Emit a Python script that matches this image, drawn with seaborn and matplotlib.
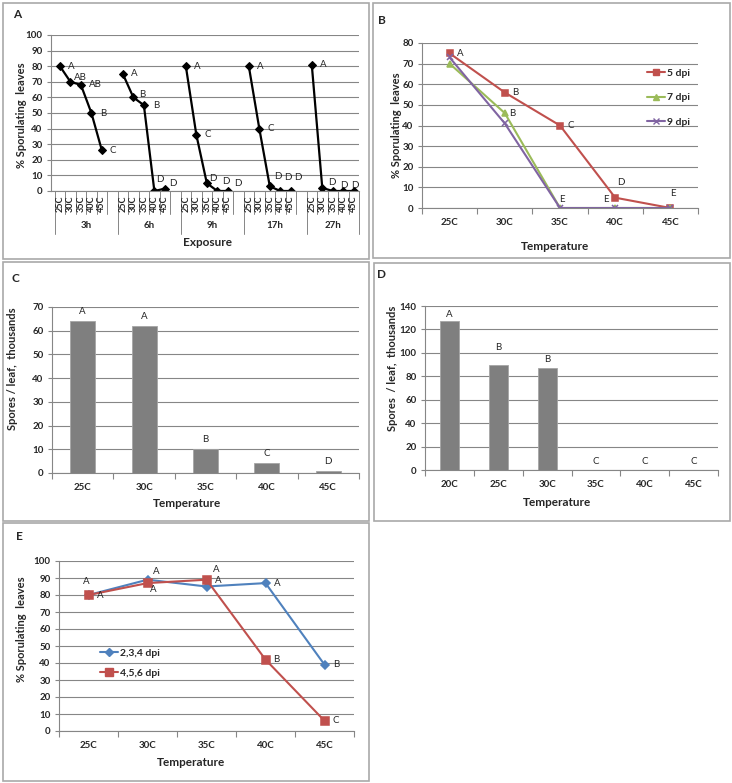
import numpy as np
import pandas as pd
import matplotlib
matplotlib.use("Agg")
import matplotlib.pyplot as plt
import seaborn as sns
from matplotlib.lines import Line2D
from matplotlib.patches import Rectangle

sns.set_theme(style="white")
plt.rcParams['font.family'] = ['Lato', 'DejaVu Sans']
plt.rcParams['font.weight'] = 'bold'

# --- panel A: % sporulating leaves by exposure time and temperature
temps_a = ['25C', '30C', '35C', '40C', '45C']
exposures = ['3h', '6h', '9h', '17h', '27h']
a_3h = [80, 70, 68, 50, 26]
a_6h = [75, 60, 55, 0, 1.5]
a_9h = [80, 36, 5, 0, 0]
a_17h = [80, 40, 3, 0, 0]
a_27h = [81, 2, 0, 0, 0]
a_3h_lbl = ['A', 'AB', 'AB', 'B', 'C']
a_6h_lbl = ['A', 'B', 'B', 'D', 'D']
a_9h_lbl = ['A', 'C', 'D', 'D', 'D']
a_17h_lbl = ['A', 'C', 'D', 'D', 'D']
a_27h_lbl = ['A', 'D', '', 'D', 'D']

# --- panel B
temps_b = ['25C', '30C', '35C', '40C', '45C']
dpi_b = ['5 dpi', '7 dpi', '9 dpi']
b_5dpi = [75, 56, 40, 5, 0]
b_7dpi = [70, 46, 0, 0, 0]
b_9dpi = [73, 41, 0, 0, 0]
b_5dpi_lbl = ['A', 'B', 'C', 'D', 'E']
b_7dpi_lbl = ['', 'B', 'E', '', '']
b_9dpi_lbl = ['', '', '', 'E', '']

# --- panel C
temps_c = ['25C', '30C', '35C', '40C', '45C']
spores_c = [64, 62, 10, 4.2, 0.7]
spores_c_lbl = ['A', 'A', 'B', 'C', 'D']

# --- panel D
temps_d = ['20C', '25C', '30C', '35C', '40C', '45C']
spores_d = [127, 90, 87, 0, 0, 0]
spores_d_lbl = ['A', 'B', 'B', 'C', 'C', 'C']

# --- panel E
temps_e = ['25C', '30C', '35C', '40C', '45C']
dpi_e = ['2,3,4 dpi', '4,5,6 dpi']
e_234 = [80, 89, 85, 87, 39]
e_456 = [80, 87, 89, 42, 6]
e_234_lbl = ['A', 'A', 'A', 'A', 'B']
e_456_lbl = ['A', 'A', 'A', 'B', 'C']

# letter offsets in pixels (right, up)
a_off = [[(8, 0), (4, 4), (8, 0), (9, 0), (8, 0)],
         [(8, 0), (6, 3), (9, 0), (2, 11), (4, 5)],
         [(8, 0), (8, 0), (2, 5), (5, 9), (6, 7)],
         [(8, 0), (8, 0), (4, 10), (4, 13), (3, 14)],
         [(8, 0), (6, 5), (0, 0), (-3, 6), (-3, 6)]]
b_5dpi_off = [(11, 0), (10, 0), (11, 0), (6, 15), (2, 15)]
b_7dpi_off = [(0, 0), (7, 0), (2, 8), (0, 0), (0, 0)]
b_9dpi_off = [(0, 0), (0, 0), (0, 0), (-9, 8), (0, 0)]
e_234_off = [(-2.5, 14), (8.5, 8), (11.5, 6), (11.5, 0), (11.5, 0)]
e_456_off = [(11.5, -1), (5.5, -6), (9.5, 10), (10.5, 0), (11.5, 0)]
d_off = [7, 17, 9, 9, 9, 9]

RED = '#C0504D'
GREEN = '#9BBB59'
PURPLE = '#8064A2'
BLUE = '#4F81BD'
BAR = '#7F7F7F'
GRID = '#868686'

W, H = 732, 783
fig = plt.figure(figsize=(W / 100, H / 100), dpi=100)
fig.patch.set_facecolor('white')


def px_axes(x0, y0, x1, y1):
    return fig.add_axes([x0 / W, 1 - y1 / H, (x1 - x0) / W, (y1 - y0) / H])


def ftext(x, y, s, **kw):
    kw.setdefault('ha', 'center')
    kw.setdefault('va', 'center')
    fig.text(x / W, 1 - y / H, s, **kw)


def box(x0, y0, x1, y1):
    fig.add_artist(Rectangle((x0 / W, 1 - y1 / H), (x1 - x0) / W, (y1 - y0) / H,
                             transform=fig.transFigure, fill=False,
                             ec='#A9A9A9', lw=1.2))


def style_axes(ax, ymax, ystep):
    ax.set_ylim(0, ymax)
    ax.set_yticks(np.arange(0, ymax + 1, ystep))
    ax.yaxis.grid(True, color=GRID, lw=0.8)
    ax.xaxis.grid(False)
    ax.set_axisbelow(True)
    sns.despine(ax=ax)
    for s in ['left', 'bottom']:
        ax.spines[s].set_color(GRID)
        ax.spines[s].set_linewidth(0.8)
    ax.tick_params(axis='y', left=True, length=3, width=0.8, color=GRID,
                   labelsize=7, pad=3)
    ax.set_xlabel('')
    ax.set_ylabel('')
    ax.set_facecolor('none')


def cat_ticks(ax, n):
    ax.set_xlim(-0.5, n - 0.5)
    ax.set_xticks(np.arange(n + 1) - 0.5, minor=True)
    ax.tick_params(axis='x', which='major', bottom=False, length=0,
                   labelsize=7, pad=7)
    ax.tick_params(axis='x', which='minor', bottom=True, length=4,
                   width=0.8, color=GRID)


def letter(ax, x, y, s, dx, dy, ha='center'):
    if s:
        ax.annotate(s, (x, y), xytext=(dx * 0.72, dy * 0.72),
                    textcoords='offset points', ha=ha, va='center',
                    fontsize=7, fontweight='normal')


# ---------------- A
axA = px_axes(51, 35, 359, 191)
rows = []
a_vals = [a_3h, a_6h, a_9h, a_17h, a_27h]
a_lbls = [a_3h_lbl, a_6h_lbl, a_9h_lbl, a_17h_lbl, a_27h_lbl]
for g, exp in enumerate(exposures):
    for j, t in enumerate(temps_a):
        rows.append(dict(exposure=exp, temp=t, pos=g * 6 + j,
                         val=a_vals[g][j], lbl=a_lbls[g][j],
                         dx=a_off[g][j][0], dy=a_off[g][j][1]))
dfA = pd.DataFrame(rows)
sns.lineplot(data=dfA, x='pos', y='val', units='exposure', estimator=None,
             color='black', marker='D', markersize=4,
             markeredgecolor='black', lw=1.6, ax=axA)
style_axes(axA, 100, 10)
axA.set_xlim(-0.85, 28.5)
axA.set_xticks([])
for _, r in dfA.iterrows():
    letter(axA, r.pos, r.val, r.lbl, r.dx, r.dy, ha='left')
tr = axA.get_xaxis_transform()
for g, exp in enumerate(exposures):
    base = g * 6
    for k in range(1, 6):
        axA.plot([base - 0.5 + k] * 2, [0, -0.147], color=GRID, lw=0.7,
                 transform=tr, clip_on=False)
    axA.plot([base - 0.5] * 2, [0, -0.276], color=GRID, lw=0.7,
             transform=tr, clip_on=False)
    for j, t in enumerate(temps_a):
        axA.text(base + j, -0.083, t, transform=tr, rotation=90,
                 ha='center', va='center', fontsize=6.5)
    gx = base + 2.5 if g < 4 else base + 2
    axA.text(gx, -0.224, exp, transform=tr, ha='center', va='center',
             fontsize=7)
axA.plot([28.5] * 2, [0, -0.276], color=GRID, lw=0.7, transform=tr,
         clip_on=False)
ftext(22, 115, '% Sporulating  leaves', rotation=90, fontsize=8)
ftext(207, 242, 'Exposure', fontsize=8.5)

# ---------------- B
axB = px_axes(422, 43, 698, 208)
dfB = pd.DataFrame({'temp': temps_b * 3,
                    'series': np.repeat(dpi_b, len(temps_b)),
                    'val': b_5dpi + b_7dpi + b_9dpi})
sns.pointplot(data=dfB, x='temp', y='val', hue='series', order=temps_b,
              hue_order=dpi_b, palette=[RED, GREEN, PURPLE],
              markers=['s', '^', 'x'], linestyles='-', markersize=5,
              linewidth=1.5, errorbar=None, legend=False, ax=axB)
style_axes(axB, 80, 10)
cat_ticks(axB, len(temps_b))
for vals, lbls, offs in [(b_5dpi, b_5dpi_lbl, b_5dpi_off),
                         (b_7dpi, b_7dpi_lbl, b_7dpi_off),
                         (b_9dpi, b_9dpi_lbl, b_9dpi_off)]:
    for i, (v, l, o) in enumerate(zip(vals, lbls, offs)):
        letter(axB, i, v, l, *o)
hB = [Line2D([], [], color=c, marker=m, markersize=5, lw=1.5)
      for c, m in zip([RED, GREEN, PURPLE], ['s', '^', 'x'])]
axB.legend(hB, dpi_b, loc='upper left', bbox_to_anchor=(0.815, 0.845),
           frameon=False, handlelength=1.7, handletextpad=0.2,
           labelspacing=1.45, borderaxespad=0, borderpad=0,
           prop=dict(size=7.5, weight='bold'))
ftext(397, 125, '% Sporulating  leaves', rotation=90, fontsize=8)
ftext(555, 246, 'Temperature', fontsize=8.5)

# ---------------- C
axC = px_axes(52, 307, 359, 473)
sns.barplot(x=temps_c, y=spores_c, color=BAR, width=0.41, saturation=1,
            edgecolor='#A5A5A5', linewidth=0.6, ax=axC)
style_axes(axC, 70, 10)
cat_ticks(axC, len(temps_c))
for i, (v, l) in enumerate(zip(spores_c, spores_c_lbl)):
    letter(axC, i, v, l, 0, 9.5)
ftext(13, 369, 'Spores / leaf,  thousands', rotation=90, fontsize=8)
ftext(187, 503, 'Temperature', fontsize=8.5)

# ---------------- D
axD = px_axes(425, 306, 718, 470)
sns.barplot(x=temps_d, y=spores_d, color=BAR, width=0.39, saturation=1,
            edgecolor='#A5A5A5', linewidth=0.6, ax=axD)
style_axes(axD, 140, 20)
cat_ticks(axD, len(temps_d))
for i, (v, l) in enumerate(zip(spores_d, spores_d_lbl)):
    letter(axD, i, v, l, 0, d_off[i])
ftext(392, 368, 'Spores  / leaf,  thousands', rotation=90, fontsize=8)
ftext(557, 502, 'Temperature', fontsize=8.5)

# ---------------- E
axE = px_axes(59, 561, 354, 731)
dfE = pd.DataFrame({'temp': temps_e * 2,
                    'series': np.repeat(dpi_e, len(temps_e)),
                    'val': e_234 + e_456})
sns.pointplot(data=dfE, x='temp', y='val', hue='series', order=temps_e,
              hue_order=dpi_e, palette=[BLUE, RED], markers=['D', 's'],
              linestyles='-', markersize=5, linewidth=1.5, errorbar=None,
              legend=False, ax=axE)
for ln in axE.lines:
    ln.set_markersize(4.2 if ln.get_marker() == 'D' else 6)
style_axes(axE, 100, 10)
cat_ticks(axE, len(temps_e))
for vals, lbls, offs in [(e_234, e_234_lbl, e_234_off),
                         (e_456, e_456_lbl, e_456_off)]:
    for i, (v, l, o) in enumerate(zip(vals, lbls, offs)):
        letter(axE, i, v, l, *o)
hE = [Line2D([], [], color=BLUE, marker='D', markersize=4, lw=1.5),
      Line2D([], [], color=RED, marker='s', markersize=5.5, lw=1.5)]
axE.legend(hE, dpi_e, loc='upper left', bbox_to_anchor=(0.139, 0.485),
           frameon=False, handlelength=1.7, handletextpad=0.2,
           labelspacing=1.0, borderaxespad=0, borderpad=0,
           prop=dict(size=7.5, weight='bold'))
ftext(22, 629, '% Sporulating  leaves', rotation=90, fontsize=8)
ftext(191, 762, 'Temperature', fontsize=8.5)

# panel frames and letters
box(3, 3, 369, 259)
box(373, 3, 730, 258)
box(3, 262, 369, 521)
box(374, 263, 730, 521)
box(3, 523, 369, 781)
ftext(17, 15, 'A', fontsize=8.5)
ftext(382, 20, 'B', fontsize=8.5)
ftext(15, 279, 'C', fontsize=8.5)
ftext(382, 275, 'D', fontsize=8.5)
ftext(19, 537, 'E', fontsize=8.5)

fig.savefig('out.png', dpi=100)
